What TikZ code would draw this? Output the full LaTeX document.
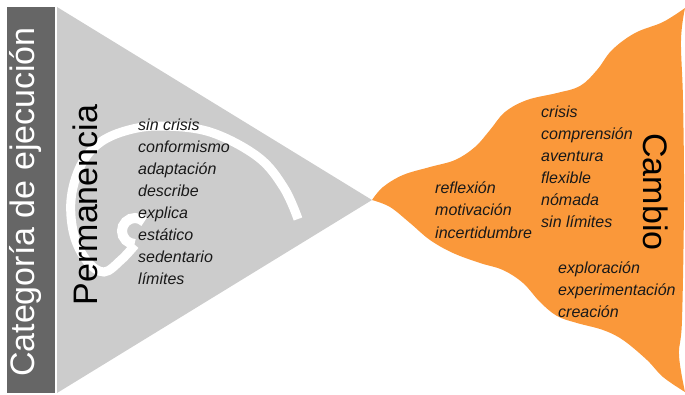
\documentclass[tikz,border=0pt]{standalone}
\usepackage{fontspec}
\setmainfont{Liberation Sans}
\definecolor{darkbar}{RGB}{102,102,102}
\definecolor{tri}{RGB}{204,204,204}
\definecolor{orng}{RGB}{250,152,58}
\tikzset{
  biglabel/.style={font=\fontsize{34}{34}\selectfont, inner sep=0pt, anchor=base},
  listtxt/.style={font=\fontsize{16}{22}\selectfont\itshape, inner sep=0pt, anchor=base west, text=black!90},
  spiralband/.style={white, line width=9pt, line cap=butt},
}
\begin{document}
\begin{tikzpicture}[x=1pt,y=-1pt]
\useasboundingbox (0,0) rectangle (685,394);
% dark bar
\fill[darkbar] (7,7) rectangle (55,393);
% gray triangle
\fill[tri] (57,7) -- (372,200) -- (57,393) -- cycle;
% spiral
\draw[spiralband] plot[smooth, tension=0.6] coordinates {
  (298,219) (284,188) (258,157) (210,132) (160,126) (125,131) (98,144) (80,167)
  (71,200) (74,235) (87,261) (104,272) (121,260) (135,245)};
\coordinate (cc) at (135,231);
\draw[spiralband, line width=10pt] (cc) ++(-45:13) arc[start angle=-45, end angle=-268, radius=13];
% orange shape
\fill[orng] (372,200)
  -- plot[smooth, tension=0.6] coordinates {(372,200) (383,187) (403,175) (430,167) (455,160) (475,147) (490,130) (505,112) (527,100) (557,93) (580,86) (597,70) (612,50) (635,33) (663,22) (685,8)}
  -- plot[smooth, tension=0.6] coordinates {(685,8) (681,40) (683,100) (684,200) (682,320) (679,355) (685,392)}
  -- plot[smooth, tension=0.6] coordinates {(685,392) (663,377) (647,360) (623,340) (603,330) (577,323) (557,316) (540,302) (523,283) (503,270) (480,263) (453,253) (430,240) (410,223) (390,207) (372,200)}
  -- cycle;
% big labels
\node[biglabel, rotate=90, text=white] (cat) at (34,202) {Categoría de ejecución};
\node[biglabel, rotate=90] (perm) at (97,205) {Permanencia};
\node[biglabel, rotate=-90] (camb) at (643,192) {Cambio};
% lists
\foreach \t [count=\i] in {sin crisis, conformismo, adaptación, describe, explica, estático, sedentario, límites}
  \node[listtxt] (pa\i) at (138,{130+22*(\i-1)}) {\t};
\foreach \t [count=\i] in {crisis, comprensión, aventura, flexible, nómada, sin límites}
  \node[listtxt] (cb\i) at (541,{117+22*(\i-1)}) {\t};
\foreach \t [count=\i] in {reflexión, motivación, incertidumbre}
  \node[listtxt] (cm\i) at (435,{193+22.5*(\i-1)}) {\t};
\foreach \t [count=\i] in {exploración, experimentación, creación}
  \node[listtxt] (cc\i) at (558,{273+22*(\i-1)}) {\t};
\end{tikzpicture}
\end{document}
